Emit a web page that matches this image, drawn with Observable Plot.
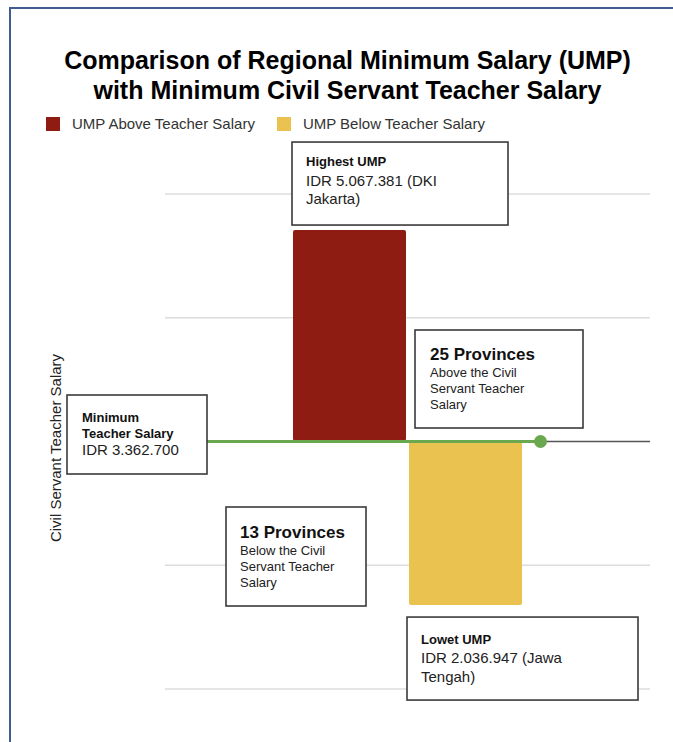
<!DOCTYPE html>
<html><head><meta charset="utf-8">
<script src="https://cdn.jsdelivr.net/npm/d3@7"></script>
<script src="https://cdn.jsdelivr.net/npm/@observablehq/plot@0.6"></script>
<style>
html,body{margin:0;padding:0;background:#fff;}
body{width:673px;height:742px;overflow:hidden;position:relative;font-family:"Liberation Sans",Arial,sans-serif;}
#frame{position:absolute;left:9px;top:7px;width:720px;height:800px;border-left:2px solid #3f5d8f;border-top:2px solid #3f5d8f;}
#title{position:absolute;left:0;top:45px;width:695px;text-align:center;font-weight:bold;font-size:25px;line-height:30px;color:#000;}
#legend{position:absolute;left:46px;top:115px;display:flex;align-items:center;font-size:15px;line-height:18px;color:#333;}
#legend .sw{width:14px;height:14px;margin-right:12px;}
#legend .item{display:flex;align-items:center;margin-right:22px;}
#ylabel{position:absolute;left:55px;top:448px;transform:translate(-50%,-50%) rotate(-90deg);white-space:nowrap;font-size:15px;color:#222;}
#chart{position:absolute;left:0;top:140px;}
#notes{position:absolute;left:0;top:0;}
</style>
</head><body>
<div id="frame"></div>
<div id="title">Comparison of Regional Minimum Salary (UMP)<br>with Minimum Civil Servant Teacher Salary</div>
<div id="legend"></div>
<div id="ylabel">Civil Servant Teacher Salary</div>
<div id="chart"></div>
<svg id="notes" width="673" height="742"></svg>
<script>
// ---- data ----
const categories = ["UMP Above Teacher Salary", "UMP Below Teacher Salary"];
const colors = ["#8f1c12", "#e9c24f"];
const teacherSalary = 3362700;
const umpValues = [5067381, 2036947];
const regionNames = ["DKI Jakarta", "Jawa Tengah"];
const provinceCounts = [25, 13];
const gridTicks = [1362700, 2362700, 4362700, 5362700];
const yDomain = [962700, 5762700];

const fmt = d3.formatLocale({decimal: ",", thousands: ".", grouping: [3], currency: ["IDR ", ""]}).format(",");

// legend
const legend = d3.select("#legend");
categories.forEach((c, i) => {
  const it = legend.append("div").attr("class", "item");
  it.append("div").attr("class", "sw").style("background", colors[i]);
  it.append("span").text(c);
});

const bars = categories.map((c, i) => ({category: c, value: umpValues[i]}));
const chartTop = 140;
const lineInsetLeft = 42, lineInsetRight = 110;

const chart = Plot.plot({
  width: 673, height: 602,
  marginLeft: 165, marginRight: 23, marginTop: 4, marginBottom: 4,
  x: {type: "band", domain: categories, paddingInner: 0.0256, paddingOuter: 1.0855, axis: null},
  y: {domain: yDomain, axis: null},
  color: {domain: categories, range: colors},
  style: {background: "transparent", fontFamily: "Liberation Sans, Arial, sans-serif"},
  marks: [
    Plot.ruleY(gridTicks, {stroke: "#dcdcdc", strokeWidth: 1.5}),
    Plot.ruleY([teacherSalary], {stroke: "#555", strokeWidth: 1.5}),
    Plot.barY(bars, {x: "category", y1: teacherSalary, y2: "value", fill: "category", rx: 2}),
    Plot.ruleY([teacherSalary], {stroke: "#6aa84f", strokeWidth: 3, insetLeft: lineInsetLeft, insetRight: lineInsetRight}),
    Plot.dot([teacherSalary], {y: d => d, frameAnchor: "right", dx: -lineInsetRight, r: 6.5, fill: "#6aa84f"})
  ]
});
document.getElementById("chart").appendChild(chart);

// ---- annotations anchored to the chart scales ----
const xs = chart.scale("x"), ys = chart.scale("y");
const bw = xs.bandwidth;
const xAbove = xs.apply(categories[0]), xBelow = xs.apply(categories[1]);
const yBase = ys.apply(teacherSalary) + chartTop;
const yHigh = ys.apply(umpValues[0]) + chartTop;
const yLow = ys.apply(umpValues[1]) + chartTop;
const lineStart = 165 + lineInsetLeft;

const [r0a, r0b] = regionNames[0].split(" ");
const [r1a, r1b] = regionNames[1].split(" ");
const notes = [
  {x: xAbove - 1, y: yHigh - 88, w: 216, h: 83, tx: 14, lines: [
    ["Highest UMP", 13, true, 24], [`IDR ${fmt(umpValues[0])} (${r0a}`, 15, false, 44], [`${r0b})`, 15, false, 62]]},
  {x: xAbove + bw + 9, y: yBase - 111, w: 168, h: 98, tx: 15, lines: [
    [`${provinceCounts[0]} Provinces`, 17, true, 30], ["Above the Civil", 13, false, 47], ["Servant Teacher", 13, false, 63], ["Salary", 13, false, 79]]},
  {x: lineStart - 140, y: yBase - 46, w: 140, h: 79, tx: 15, lines: [
    ["Minimum", 13, true, 27], ["Teacher Salary", 13, true, 43], [`IDR ${fmt(teacherSalary)}`, 15, false, 60]]},
  {x: xBelow - 183, y: yBase + 66, w: 140, h: 99, tx: 14, lines: [
    [`${provinceCounts[1]} Provinces`, 17, true, 31], ["Below the Civil", 13, false, 48], ["Servant Teacher", 13, false, 64], ["Salary", 13, false, 80]]},
  {x: xBelow - 2, y: yLow + 12, w: 231, h: 83, tx: 14, lines: [
    ["Lowet UMP", 13, true, 27], [`IDR ${fmt(umpValues[1])} (${r1a}`, 15, false, 46], [`${r1b})`, 15, false, 65]]}
];

const svg = d3.select("#notes");
notes.forEach(n => {
  const g = svg.append("g");
  g.append("rect").attr("x", n.x).attr("y", n.y).attr("width", n.w).attr("height", n.h)
    .attr("fill", "#fff").attr("stroke", "#3a3a3a").attr("stroke-width", 1.6);
  n.lines.forEach(([t, size, bold, by]) => {
    g.append("text").attr("x", n.x + n.tx).attr("y", n.y + by)
      .attr("font-family", "Liberation Sans, Arial, sans-serif")
      .attr("font-size", size).attr("font-weight", bold ? "bold" : "normal")
      .attr("fill", bold ? "#111" : "#222").text(t);
  });
});
</script>
</body></html>
